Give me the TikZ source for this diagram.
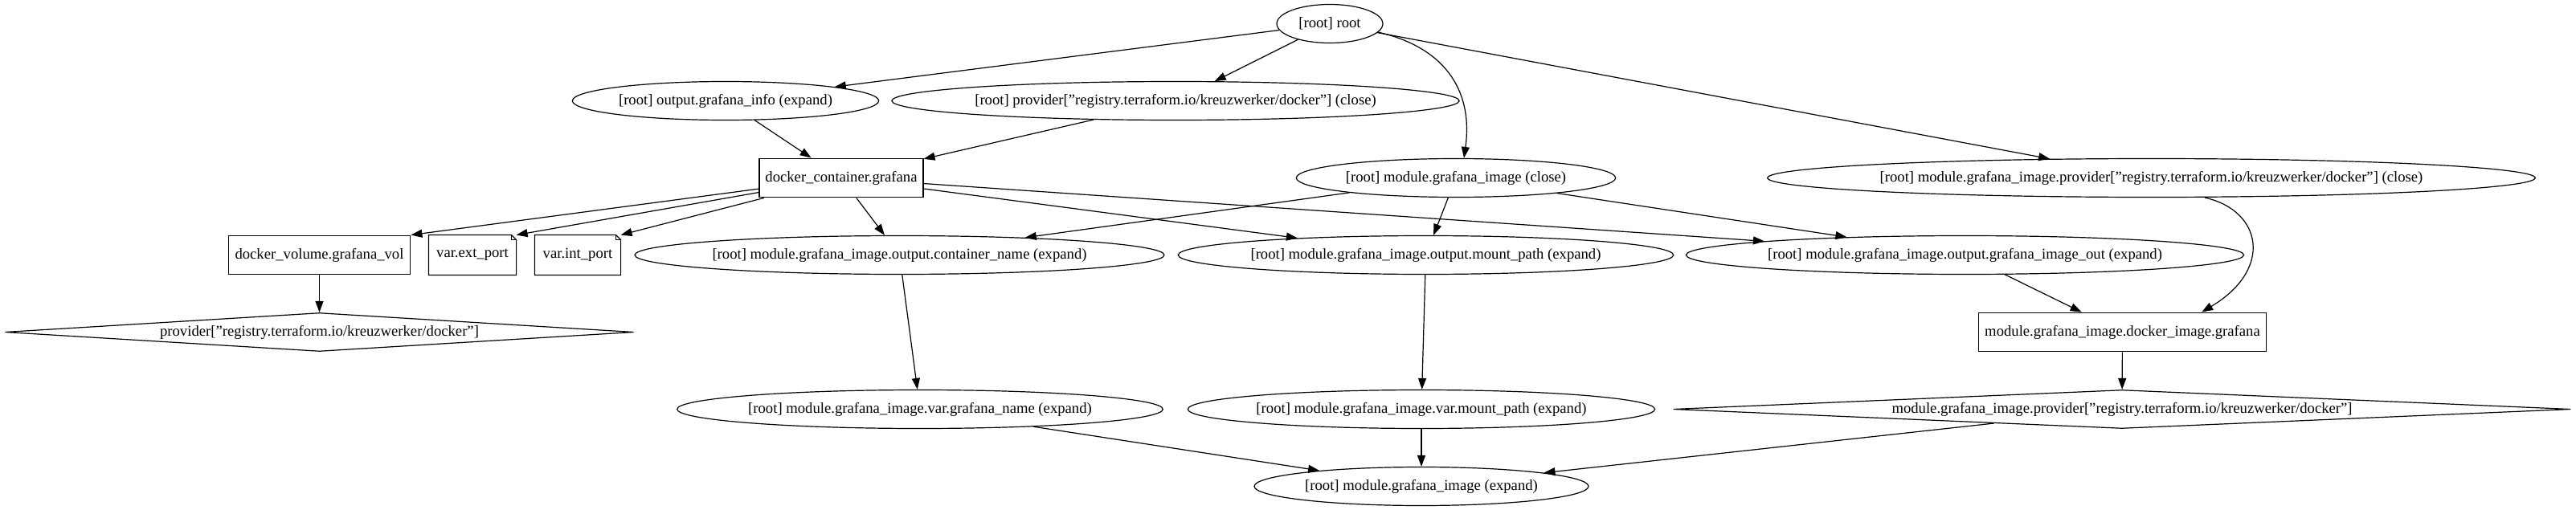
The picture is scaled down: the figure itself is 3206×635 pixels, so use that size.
\documentclass[tikz,border=0pt]{standalone}
\usepackage{fontspec}
\setmainfont{Liberation Serif}
\usetikzlibrary{arrows.meta,shapes.geometric}
\newcommand\mynotebox[1]{%
  \draw (#1.south west) -- (#1.north west) -- ([xshift=-4.5pt]#1.north east) -- ([yshift=-4.5pt]#1.north east) -- (#1.south east) -- cycle;
  \draw ([xshift=-4.5pt]#1.north east) |- ([yshift=-4.5pt]#1.north east);}
\begin{document}
\begin{tikzpicture}[x=0.75pt,y=-0.75pt,line width=0.9pt,
  every node/.style={font=\fontsize{14}{16}\selectfont},
  ell/.style={draw, ellipse, inner xsep=0pt, inner ysep=0pt, minimum height=36pt},
  box/.style={draw, rectangle, inner sep=0pt, minimum height=36.5pt},
  notenode/.style={rectangle, inner sep=0pt, minimum height=36.5pt},
  dia/.style={draw, diamond, inner sep=0pt, minimum height=36pt},
  arr/.style={-{Triangle[length=10.5pt,width=7.5pt]}}]
\useasboundingbox (0,0) rectangle (3206,635);

\node[ell, minimum width=99pt] (root) at (1655,29.5) {[root] root};
\node[ell, minimum width=286pt] (ogi) at (903,125.5) {[root] output.grafana\_info (expand)};
\node[ell, minimum width=520pt] (pc) at (1463,125.5) {[root] provider["registry.terraform.io/kreuzwerker/docker"] (close)};
\node[box, minimum width=153pt] (dc) at (1047,221.5) {docker\_container.grafana};
\node[ell, minimum width=298pt] (mc) at (1812,221.5) {[root] module.grafana\_image (close)};
\node[ell, minimum width=697pt] (mpc) at (2677.5,221.5) {[root] module.grafana\_image.provider["registry.terraform.io/kreuzwerker/docker"] (close)};
\node[box, minimum width=170pt] (dv) at (397.5,317.5) {docker\_volume.grafana\_vol};
\node[notenode, minimum width=81pt] (ext) at (588,317.5) {var.ext\_port};
\node[notenode, minimum width=79.5pt] (int) at (719,317.5) {var.int\_port};
\node[ell, minimum width=488pt] (ocn) at (1119.5,317.5) {[root] module.grafana\_image.output.container\_name (expand)};
\node[ell, minimum width=458pt] (omp) at (1774.5,317.5) {[root] module.grafana\_image.output.mount\_path (expand)};
\node[ell, minimum width=512pt] (ogio) at (2445.5,317.5) {[root] module.grafana\_image.output.grafana\_image\_out (expand)};
\node[dia, aspect=17, minimum width=587pt] (pd) at (397.5,413.5) {provider["registry.terraform.io/kreuzwerker/docker"]};
\node[box, minimum width=268pt] (di) at (2641.5,413.5) {module.grafana\_image.docker\_image.grafana};
\node[ell, minimum width=450pt] (vgn) at (1145,509.5) {[root] module.grafana\_image.var.grafana\_name (expand)};
\node[ell, minimum width=434pt] (vmp) at (1769,509.5) {[root] module.grafana\_image.var.mount\_path (expand)};
\node[dia, aspect=24, minimum width=838pt] (mpd) at (2641,509.5) {module.grafana\_image.provider["registry.terraform.io/kreuzwerker/docker"]};
\node[ell, minimum width=312pt] (exp) at (1769,605.5) {[root] module.grafana\_image (expand)};

\mynotebox{ext}
\mynotebox{int}

\draw[arr] (root) -- (ogi);
\draw[arr] (root) -- (pc);
\draw[arr] (root.-10) .. controls (1795,58) and (1834,110) .. ([xshift=7.5pt]mc.north);
\draw[arr] (root) -- (mpc);
\draw[arr] (ogi) -- (dc);
\draw[arr] (pc) -- (dc);
\draw[arr] (dc) -- (dv.north east);
\draw[arr] (dc) -- (ext.north east);
\draw[arr] (dc) -- (int.north east);
\draw[arr] (dc) -- (ocn);
\draw[arr] (dc) -- (omp);
\draw[arr] (dc) -- (ogio);
\draw[arr] (mc) -- (ocn);
\draw[arr] (mc) -- (omp);
\draw[arr] (mc) -- (ogio);
\draw[arr] ([xshift=50pt]mpc.south) .. controls (2815,262) and (2830,335) .. ([xshift=74pt]di.north);
\draw[arr] (dv) -- (pd);
\draw[arr] (ocn) -- (vgn);
\draw[arr] (omp) -- (vmp);
\draw[arr] (ogio) -- (di);
\draw[arr] (di) -- (mpd);
\draw[arr] (vgn) -- (exp);
\draw[arr] (vmp) -- (exp);
\draw[arr] (mpd) -- (exp);
\end{tikzpicture}
\end{document}
